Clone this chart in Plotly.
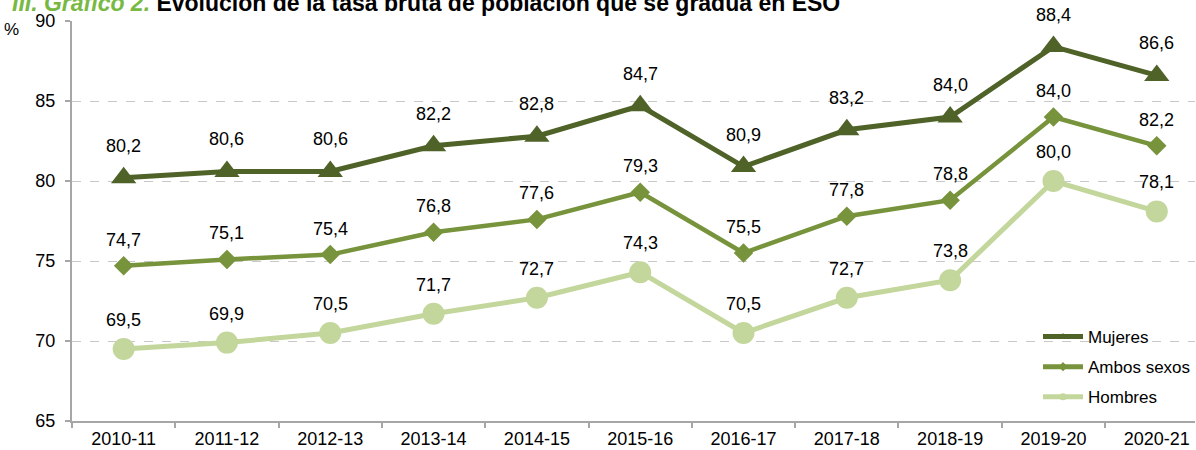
import plotly.graph_objects as go

cursos = ["2010-11", "2011-12", "2012-13", "2013-14", "2014-15", "2015-16",
          "2016-17", "2017-18", "2018-19", "2019-20", "2020-21"]
mujeres = [80.2, 80.6, 80.6, 82.2, 82.8, 84.7, 80.9, 83.2, 84.0, 88.4, 86.6]
ambos = [74.7, 75.1, 75.4, 76.8, 77.6, 79.3, 75.5, 77.8, 78.8, 84.0, 82.2]
hombres = [69.5, 69.9, 70.5, 71.7, 72.7, 74.3, 70.5, 72.7, 73.8, 80.0, 78.1]

FONT = "Liberation Sans, Arial, sans-serif"
C_MUJ = "#4f6228"
C_AMB = "#77933c"
C_HOM = "#c3d69b"

series = [
    ("Mujeres", mujeres, C_MUJ, "triangle-up", 22, 5, 32),
    ("Ambos sexos", ambos, C_AMB, "diamond", 15, 4.5, 26),
    ("Hombres", hombres, C_HOM, "circle", 22, 5, 29),
]

fig = go.Figure()
annotations = []
for name, vals, col, sym, msize, lw, lift in series:
    fig.add_trace(go.Scatter(
        x=cursos, y=vals, mode="lines+markers", name=name, showlegend=False,
        line=dict(color=col, width=lw),
        marker=dict(symbol=sym, size=msize, color=col, line=dict(width=0)),
        hoverinfo="skip"))
    for c, v in zip(cursos, vals):
        annotations.append(dict(
            x=c, y=v, xref="x", yref="y", text=f"{v:.1f}".replace(".", ","),
            showarrow=False, yshift=lift, font=dict(family=FONT, size=18, color="#000000")))

# legend entries with small markers
for i, (name, vals, col, sym, msize, lw, lift) in enumerate(series):
    fig.add_trace(go.Scatter(
        x=[None], y=[None], mode="lines+markers", name=name,
        legendgroup=f"g{i}",
        line=dict(color=col, width=5),
        marker=dict(symbol=sym, size=7, color=col)))

annotations.append(dict(
    xref="paper", yref="paper", x=-0.055, y=1.046, xanchor="left", yanchor="middle",
    showarrow=False,
    text="<b><i><span style='color:#78b943'>III. Gráfico 2.</span></i> Evolución de la tasa bruta de población que se gradúa en ESO</b>",
    font=dict(family=FONT, size=23, color="#000000")))
annotations.append(dict(
    xref="paper", yref="paper", x=-0.045, y=0.98, xanchor="right", yanchor="middle",
    showarrow=False, text="%", font=dict(family=FONT, size=17, color="#000000")))

fig.update_layout(
    width=1196, height=450,
    margin=dict(l=72, r=0, t=21, b=29),
    paper_bgcolor="white", plot_bgcolor="white",
    font=dict(family=FONT, size=17, color="#000000"),
    annotations=annotations,
    legend=dict(x=0.86, y=0.255, xanchor="left", yanchor="top",
                bgcolor="rgba(0,0,0,0)", font=dict(family=FONT, size=17, color="#000000"),
                tracegroupgap=5, itemwidth=40),
    xaxis=dict(type="category", range=[-0.5, 10.37], showgrid=False,
               showline=True, linecolor="#a6a6a6", linewidth=2,
               ticks="outside", tickson="boundaries", ticklen=5, tickcolor="#a6a6a6",
               tickwidth=1.5, tickfont=dict(family=FONT, size=18, color="#000000")),
    yaxis=dict(range=[65, 90], dtick=5, showgrid=True, gridcolor="#c8c8c8",
               griddash="dash", gridwidth=1, zeroline=False,
               showline=True, linecolor="#a6a6a6", linewidth=2,
               ticks="outside", ticklen=5, tickcolor="#a6a6a6", tickwidth=1.5,
               ticklabelstandoff=6,
               tickfont=dict(family=FONT, size=18, color="#000000")),
)

fig.write_html("out.html", config={"displayModeBar": False},
               post_script="document.body.style.margin='0';document.body.style.overflow='hidden';")
